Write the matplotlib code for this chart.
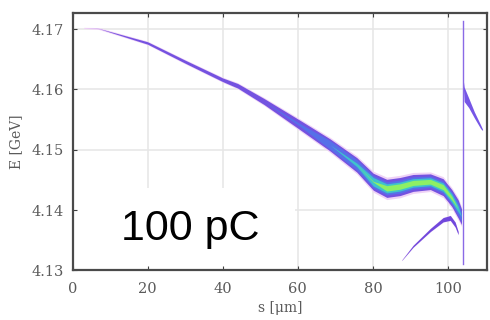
import numpy as np
import matplotlib.pyplot as plt
from matplotlib.patches import Rectangle

# main bunch: centre energy, half-width and relative density along s
s_main = [3, 7, 20, 30, 40, 44, 51, 60.6, 68.6, 75.7, 80.1, 83.7, 87.2, 90.7, 95.3, 98.7, 101.0, 102.7, 103.6]
E_main = [4.1702, 4.1701, 4.1677, 4.1646, 4.1616, 4.1606, 4.1580, 4.1541, 4.1508, 4.1475, 4.1447,
          4.1436, 4.1439, 4.1445, 4.1447, 4.1438, 4.1420, 4.1402, 4.1389]
w_main = [0.00003, 0.00008, 0.0002, 0.00025, 0.0003, 0.00038, 0.0005, 0.00078, 0.001, 0.0012, 0.0014,
          0.0015, 0.0015, 0.0014, 0.0013, 0.0014, 0.0014, 0.0015, 0.0013]
rho_main = [0.0, 0.03, 0.3, 0.3, 0.3, 0.32, 0.36, 0.45, 0.55, 0.68, 0.78, 0.92, 0.95, 0.95, 0.95, 0.92,
            0.85, 0.7, 0.5]

# lower tail of the bunch
s_tail = [87.7, 90.7, 95.3, 98.7, 100.6, 101.9, 102.7]
E_tail = [4.1317, 4.1340, 4.1367, 4.1384, 4.1387, 4.1376, 4.1362]
w_tail = [0.00003, 0.00015, 0.00025, 0.00035, 0.0004, 0.0004, 0.00025]

# head spike
spike_s = [103.9, 103.9]
spike_E = [4.1310, 4.1714]
s_head = [103.95, 104.3, 105.5, 107.0, 108.7, 109.2]
E_head = [4.1620, 4.1592, 4.1578, 4.1558, 4.1538, 4.1533]
w_head = [0.0001, 0.0012, 0.0008, 0.0005, 0.0003, 0.0001]

xticks = [0, 20, 40, 60, 80, 100]
yticks = [4.13, 4.14, 4.15, 4.16, 4.17]

plt.rcParams['font.family'] = ['DejaVu Serif']

fig = plt.figure(figsize=(4.9, 3.2), dpi=100)
ax = fig.add_axes([0.148, 0.155, 0.846, 0.803])
ax.set_xlim(0, 110.4)
ax.set_ylim(4.13, 4.1726)

# grid drawn by hand so the label box can sit over it
for x in xticks[1:]:
    ax.axvline(x, color='#e6e6e6', lw=1.1, zorder=0.3)
for y in yticks[1:]:
    ax.axhline(y, color='#e6e6e6', lw=1.1, zorder=0.3)


def ramp(r, lo):
    return np.clip((np.asarray(r) - lo) / 0.12, 0, 1)


s = np.array(s_main)
E = np.array(E_main)
w = np.array(w_main)
layers = [('#efd2f6', 1.2, None), ('#7452e0', 1.0, 0.01), ('#5670e8', 0.72, 0.4),
          ('#3fc2cc', 0.5, 0.62), ('#8ef064', 0.3, 0.76)]
for i, (col, frac, lo) in enumerate(layers):
    if lo is None:
        hw = w * frac + 0.00006
    else:
        hw = w * frac * ramp(rho_main, lo)
    ax.fill_between(s, E - hw, E + hw, color=col, lw=0, zorder=2 + i * 0.1)

st, Et, wt = np.array(s_tail), np.array(E_tail), np.array(w_tail)
ax.fill_between(st, Et - wt - 0.00006, Et + wt + 0.00006, color='#ead0f6', lw=0, zorder=2)
ax.fill_between(st, Et - wt, Et + wt, color='#7048dc', lw=0, zorder=2.1)

ax.plot(spike_s, spike_E, color='#8a6ae6', lw=1.0, zorder=2.6)
sh, Eh, wh = np.array(s_head), np.array(E_head), np.array(w_head)
ax.fill_between(sh, Eh - wh, Eh + wh, color='#7656e6', lw=0, zorder=2.5)

# white panel behind the charge label
ax.add_patch(Rectangle((0, 0), 0.537, 0.321, transform=ax.transAxes, facecolor='white',
                       edgecolor='none', zorder=0.8))
ax.text(0.118, 0.16, '100 pC', transform=ax.transAxes, fontsize=31, family='Liberation Sans',
        color='black', va='center', ha='left', zorder=5)

ax.set_xticks(xticks)
ax.set_yticks(yticks)
ax.set_yticklabels(['%.2f' % v for v in yticks])
ax.tick_params(direction='in', length=3, width=0.8, top=True, right=True, color='#404040',
               labelcolor='#5a5a5a', labelsize=10.5)
ax.tick_params(axis='x', pad=8)
ax.tick_params(axis='y', pad=6)
for sp in ax.spines.values():
    sp.set_linewidth(1.6)
    sp.set_color('#4a4a4a')

ax.set_xlabel('s [μm]', color='#5a5a5a', fontsize=10, labelpad=4)
ax.set_ylabel('E [GeV]', color='#5a5a5a', fontsize=10, labelpad=6)

fig.savefig('out.png', dpi=100)
